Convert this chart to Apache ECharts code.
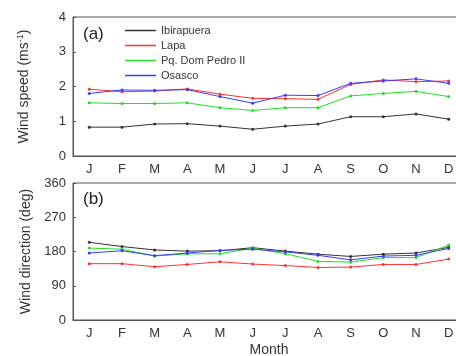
<!DOCTYPE html>
<html>
<head>
<meta charset="utf-8">
<script src="https://cdn.jsdelivr.net/npm/echarts@6/dist/echarts.min.js"></script>
<style>
  html, body { margin: 0; padding: 0; background: #fff; }
  #chart { width: 456px; height: 356px; }
</style>
</head>
<body>
<div id="chart"></div>
<script>
var months = ['J', 'F', 'M', 'A', 'M', 'J', 'J', 'A', 'S', 'O', 'N', 'D'];
var stations = ['Ibirapuera', 'Lapa', 'Pq. Dom Pedro II', 'Osasco'];
var colors = ['#333333', '#ff3030', '#22dd22', '#3a3aff'];

// (a) wind speed, m/s
var speedIbirapuera = [0.83, 0.83, 0.92, 0.93, 0.86, 0.77, 0.86, 0.92, 1.13, 1.13, 1.21, 1.06];
var speedLapa = [1.92, 1.85, 1.87, 1.93, 1.78, 1.66, 1.65, 1.63, 2.06, 2.19, 2.14, 2.16];
var speedPqDomPedro = [1.53, 1.51, 1.51, 1.53, 1.39, 1.31, 1.39, 1.39, 1.73, 1.80, 1.86, 1.71];
var speedOsasco = [1.80, 1.90, 1.89, 1.91, 1.71, 1.52, 1.75, 1.74, 2.09, 2.16, 2.22, 2.09];

// (b) wind direction, deg
var dirIbirapuera = [204, 193, 184, 181, 182, 190, 181, 173, 167, 173, 176, 191];
var dirLapa = [148, 148, 140, 146, 153, 147, 143, 138, 139, 146, 146, 160];
var dirPqDomPedro = [189, 186, 168, 174, 174, 189, 174, 154, 152, 164, 164, 197];
var dirOsasco = [176, 182, 169, 176, 183, 186, 179, 170, 158, 168, 170, 188];

var speedTicks = [0, 1, 2, 3, 4];
var dirTicks = [0, 90, 180, 270, 360];

var speedData = [speedIbirapuera, speedLapa, speedPqDomPedro, speedOsasco];
var dirData = [dirIbirapuera, dirLapa, dirPqDomPedro, dirOsasco];

var font = 'Liberation Sans, Arial, sans-serif';
var axisColor = '#555';

function xAxisFor(gridIndex, extra) {
  return Object.assign({
    type: 'category',
    gridIndex: gridIndex,
    data: months,
    boundaryGap: true,
    axisLine: { lineStyle: { color: axisColor } },
    axisTick: { inside: true, length: 3, alignWithLabel: true, lineStyle: { color: axisColor } },
    axisLabel: { color: '#333', fontSize: 13, fontFamily: font, margin: 7, interval: 0 },
    splitLine: { show: false }
  }, extra || {});
}

function yAxisFor(gridIndex, ticks, name) {
  return {
    type: 'value',
    gridIndex: gridIndex,
    min: ticks[0],
    max: ticks[ticks.length - 1],
    interval: ticks[1] - ticks[0],
    name: name,
    nameLocation: 'middle',
    nameGap: 40,
    nameTextStyle: {
      fontSize: 14, color: '#333', fontFamily: font,
      rich: { sup: { fontSize: 9, color: '#333', fontFamily: font, padding: [0, 0, 8, 0] } }
    },
    axisLine: { show: true, lineStyle: { color: axisColor } },
    axisTick: { show: true, inside: true, length: 3, lineStyle: { color: axisColor } },
    axisLabel: { color: '#333', fontSize: 13, fontFamily: font, margin: 7 },
    splitLine: { show: false }
  };
}

function seriesFor(gridIndex, data) {
  return stations.map(function (name, i) {
    return {
      name: name,
      type: 'line',
      xAxisIndex: gridIndex,
      yAxisIndex: gridIndex,
      data: data[i],
      symbol: 'circle',
      symbolSize: 3,
      lineStyle: { width: 1, color: colors[i] },
      itemStyle: { color: colors[i] },
      z: i === 3 ? 4 : 3
    };
  });
}

var chart = echarts.init(document.getElementById('chart'));
chart.setOption({
  animation: false,
  textStyle: { fontFamily: font },
  grid: [
    { left: 73, top: 17, width: 392, height: 139, show: true, borderColor: axisColor, borderWidth: 1, outerBoundsMode: 'none' },
    { left: 73, top: 183, width: 392, height: 137, show: true, borderColor: axisColor, borderWidth: 1, outerBoundsMode: 'none' }
  ],
  legend: {
    data: stations,
    orient: 'vertical',
    left: 120,
    top: 20,
    icon: 'rect',
    itemWidth: 31,
    itemHeight: 1.5,
    itemGap: 4,
    textStyle: { fontSize: 11, color: '#333', fontFamily: font, padding: [0, 0, 0, 0] }
  },
  xAxis: [
    xAxisFor(0),
    xAxisFor(1, {
      name: 'Month',
      nameLocation: 'middle',
      nameGap: 23,
      nameTextStyle: { fontSize: 14, color: '#333', fontFamily: font }
    })
  ],
  yAxis: [
    yAxisFor(0, speedTicks, 'Wind speed (ms{sup|-1})'),
    yAxisFor(1, dirTicks, 'Wind direction (deg)')
  ],
  graphic: [
    { type: 'text', left: 83, top: 26, style: { text: '(a)', fontSize: 17, fill: '#222', fontFamily: font } },
    { type: 'text', left: 83, top: 191, style: { text: '(b)', fontSize: 17, fill: '#222', fontFamily: font } }
  ],
  series: seriesFor(0, speedData).concat(seriesFor(1, dirData))
});
</script>
</body>
</html>
